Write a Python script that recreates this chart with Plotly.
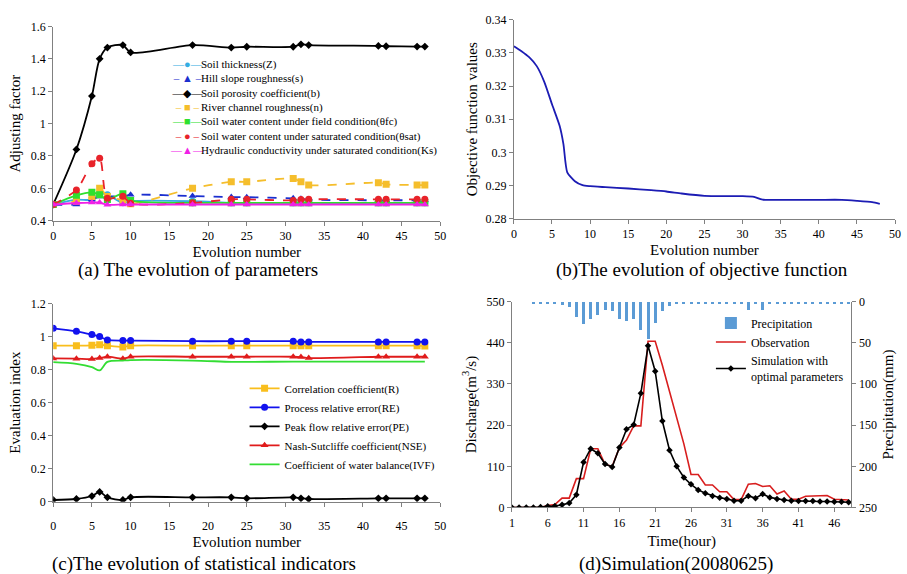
import plotly.graph_objects as go

W, H = 907, 574
SERIF = "Liberation Serif"

# ---------------- data ----------------
EVO = [0, 3, 5, 6, 7, 9, 10, 18, 23, 25, 31, 32, 33, 42, 43, 47, 48]

# (a) parameters
soil_thickness = [0.50, 0.53, 0.53, 0.57, 0.56, 0.51, 0.52, 0.52, 0.51, 0.51, 0.51, 0.51, 0.51, 0.51, 0.51, 0.51, 0.51]
hill_slope = [0.50, 0.50, 0.53, 0.55, 0.55, 0.55, 0.56, 0.552, 0.546, 0.545, 0.538, 0.536, 0.53, 0.526, 0.526, 0.526, 0.526]
soil_porosity = [0.50, 0.84, 1.17, 1.40, 1.47, 1.485, 1.44, 1.485, 1.47, 1.475, 1.475, 1.49, 1.485, 1.48, 1.478, 1.476, 1.476]
river_rough = [0.50, 0.52, 0.55, 0.60, 0.55, 0.527, 0.505, 0.60, 0.64, 0.64, 0.66, 0.64, 0.62, 0.635, 0.625, 0.62, 0.62]
theta_fc = [0.50, 0.557, 0.575, 0.56, 0.53, 0.567, 0.525, 0.51, 0.51, 0.51, 0.51, 0.51, 0.51, 0.51, 0.51, 0.51, 0.51]
theta_sat = [0.50, 0.59, 0.752, 0.786, 0.538, 0.551, 0.508, 0.51, 0.532, 0.532, 0.525, 0.53, 0.532, 0.532, 0.532, 0.532, 0.532]
ks = [0.50, 0.509, 0.512, 0.512, 0.498, 0.50, 0.50, 0.50, 0.50, 0.50, 0.50, 0.50, 0.50, 0.50, 0.50, 0.50, 0.50]

A_NAMES = ["Soil thickness(Z)", "Hill slope roughness(s)", "Soil porosity coefficient(b)",
           "River channel roughness(n)", "Soil water content under field condition(θfc)",
           "Soil water content under saturated condition(θsat)",
           "Hydraulic conductivity under saturated condition(Ks)"]

# (b) objective function
OBJ_X = [0, 1, 2, 3, 4, 5, 6, 6.5, 7, 8, 9, 10, 12, 15, 18, 20, 22, 25, 28, 30, 31.5, 32.5, 33, 35, 40, 43, 45, 47, 48]
OBJ_Y = [0.3320, 0.3305, 0.3287, 0.3260, 0.3212, 0.3145, 0.3080, 0.3025, 0.2940, 0.2913, 0.2901, 0.2898,
         0.2895, 0.2891, 0.2886, 0.2882, 0.2876, 0.2869, 0.2868, 0.2868, 0.2866, 0.2858, 0.2857, 0.2857,
         0.2857, 0.2857, 0.2854, 0.2850, 0.2845]

# (c) statistical indicators
corr_R = [0.945, 0.945, 0.947, 0.951, 0.945, 0.937, 0.945, 0.945, 0.945, 0.945, 0.945, 0.945, 0.945, 0.945, 0.945, 0.945, 0.943]
proc_RE = [1.05, 1.032, 1.012, 1.0, 0.98, 0.976, 0.976, 0.972, 0.972, 0.972, 0.972, 0.968, 0.968, 0.968, 0.968, 0.968, 0.968]
peak_PE = [0.01, 0.016, 0.034, 0.059, 0.026, 0.01, 0.026, 0.026, 0.026, 0.02, 0.026, 0.02, 0.016, 0.02, 0.02, 0.02, 0.02]
nse = [0.868, 0.866, 0.864, 0.870, 0.878, 0.866, 0.878, 0.878, 0.878, 0.878, 0.878, 0.876, 0.870, 0.878, 0.878, 0.878, 0.878]
ivf = [0.845, 0.835, 0.815, 0.795, 0.847, 0.855, 0.858, 0.855, 0.847, 0.847, 0.848, 0.848, 0.848, 0.848, 0.848, 0.848, 0.848]

# (d) simulation 20080625
HOURS = list(range(1, 49))
precip = [0, 0, 0, 1.5, 1.5, 1.5, 2.5, 4, 6.5, 17.8, 26.7, 21, 15.2, 9.2, 10.4, 20.3, 23.1, 21, 33.8, 44.8,
          25, 10.4, 4.7, 1.5, 1.5, 1.5, 1.5, 1.5, 1.5, 1.5, 1.5, 1.5, 1.5, 10, 1.5, 10, 1.5, 1.5, 1.5, 1.5,
          1.5, 1.5, 1.5, 1.5, 1.5, 1.5, 1.5, 1.5]
observed = [0, 0, 0, 0, 0, 5, 8, 25, 25, 77, 77, 157, 157, 115, 110, 160, 180, 218, 218, 444,
            444, 380, 310, 240, 170, 88, 88, 60, 60, 42, 42, 21, 21, 62, 64, 56, 58, 36, 44, 22,
            22, 30, 30, 30, 32, 22, 21, 20]
simulated = [0, 0, 0, 0, 1, 3, 4, 7, 12, 34, 121, 157, 145, 116, 108, 160, 209, 221, 305, 432,
             364, 231, 153, 110, 80, 62, 47, 38, 31, 26, 23, 18, 18, 31, 25, 36, 27, 23, 20, 18,
             17, 17, 17, 16, 16, 15, 15, 14]

D_TICKS = [1, 6, 11, 16, 21, 26, 31, 36, 41, 46]

# ---------------- helpers ----------------
def px_x(a, b):
    return [a / W, b / W]

def px_y(top, bottom):
    return [1 - bottom / H, 1 - top / H]

def ttl(text, standoff):
    return dict(text=text, standoff=standoff, font=dict(family=SERIF, size=15, color="#000"))

fig = go.Figure()

# (a)
a_styles = [
    ("#34ADE2", "solid", "circle", 7, "—●—"),
    ("#1B2FCF", "dash", "triangle-up", 7, "– ▲ –"),
    ("#000000", "solid", "diamond", 6, "—◆—"),
    ("#F5BE2C", "dash", "square", 7, "– ■ –"),
    ("#2EE02E", "solid", "square", 7, "—■—"),
    ("#E8232A", "dash", "circle", 7, "– ● –"),
    ("#F020E6", "solid", "triangle-up", 7, "—▲—"),
]
a_values = [soil_thickness, hill_slope, soil_porosity, river_rough, theta_fc, theta_sat, ks]
for name, vals, (col, dash, sym, sz, _) in zip(A_NAMES, a_values, a_styles):
    fig.add_trace(go.Scatter(
        x=EVO, y=vals, name=name, mode="lines+markers", showlegend=False,
        line=dict(color=col, width=1.8, dash=dash, shape="spline", smoothing=0.8),
        marker=dict(color=col, symbol=sym, size=sz),
        xaxis="x", yaxis="y"))

# (b)
fig.add_trace(go.Scatter(
    x=OBJ_X, y=OBJ_Y, mode="lines", showlegend=False,
    line=dict(color="#1C1CB4", width=1.8, shape="spline", smoothing=0.6),
    xaxis="x2", yaxis="y2"))

# (c)
c_series = [
    ("Correlation coefficient(R)", corr_R, "#F9BE1C", "square", 7, "lines+markers"),
    ("Process relative error(RE)", proc_RE, "#1212EE", "circle", 7, "lines+markers"),
    ("Peak flow relative error(PE)", peak_PE, "#000000", "diamond", 6, "lines+markers"),
    ("Nash-Sutcliffe coefficient(NSE)", nse, "#E01B1B", "triangle-up", 7, "lines+markers"),
    ("Coefficient of water balance(IVF)", ivf, "#33DD33", "circle", 1, "lines"),
]
for name, vals, col, sym, sz, mode in c_series:
    fig.add_trace(go.Scatter(
        x=EVO, y=vals, name=name, mode=mode,
        line=dict(color=col, width=1.8, shape="spline", smoothing=0.8),
        marker=dict(color=col, symbol=sym, size=sz),
        xaxis="x3", yaxis="y3", legend="legend2"))

# (d)
fig.add_trace(go.Bar(
    x=HOURS, y=precip, name="Precipitation", marker=dict(color="#5B9BD5", line=dict(width=0)),
    width=0.42, xaxis="x4", yaxis="y5", legend="legend3"))
fig.add_trace(go.Scatter(
    x=HOURS, y=observed, name="Observation", mode="lines",
    line=dict(color="#D81E1E", width=1.6),
    xaxis="x4", yaxis="y4", legend="legend3"))
fig.add_trace(go.Scatter(
    x=HOURS, y=simulated, name="Simulation with<br>optimal parameters", mode="lines+markers",
    line=dict(color="#000000", width=1.6), marker=dict(color="#000000", symbol="diamond", size=5),
    xaxis="x4", yaxis="y4", legend="legend3"))

axis_common = dict(showline=True, linecolor="#808080", linewidth=1, ticks="outside",
                   tickcolor="#808080", ticklen=4, showgrid=False, zeroline=False,
                   tickfont=dict(family=SERIF, size=12, color="#000"))

fig.update_layout(
    width=W, height=H, margin=dict(l=0, r=0, t=0, b=0),
    paper_bgcolor="white", plot_bgcolor="white", bargap=0,
    font=dict(family=SERIF, color="#000"),
    xaxis=dict(domain=px_x(50.7, 441.7), anchor="y", range=[0, 50], dtick=5,
               title=ttl("Evolution number", 4), **axis_common),
    yaxis=dict(domain=px_y(20, 219), anchor="x", range=[0.4, 1.6], dtick=0.2,
               title=ttl("Adjusting factor", 6), **axis_common),
    xaxis2=dict(domain=px_x(516, 901), anchor="y2", range=[0, 50], dtick=5,
                title=ttl("Evolution number", 4), **axis_common),
    yaxis2=dict(domain=px_y(13, 217), anchor="x2", range=[0.28, 0.34], dtick=0.01,
                title=ttl("Objective function values", 4), **axis_common),
    xaxis3=dict(domain=px_x(50.7, 441.7), anchor="y3", range=[0, 50], dtick=5,
                ticklabelstandoff=9, title=ttl("Evolution number", 4), **axis_common),
    yaxis3=dict(domain=px_y(304, 507), anchor="x3", range=[0, 1.2], dtick=0.2,
                title=ttl("Evaluation index", 6), **axis_common),
    xaxis4=dict(domain=px_x(514, 857), anchor="y4", range=[1, 48.4], tickvals=D_TICKS,
                title=ttl("Time(hour)", 6), **axis_common),
    yaxis4=dict(domain=px_y(302, 513), anchor="x4", range=[0, 550], dtick=110,
                title=ttl("Discharge(m<sup>3</sup>/s)", 6), **axis_common),
    yaxis5=dict(overlaying="y4", anchor="x4", side="right", range=[250, 0], dtick=50,
                title=ttl("Precipitation(mm)", 6), **axis_common),
    legend2=dict(x=244 / W, y=1 - 376 / H, xanchor="left", yanchor="top",
                 bgcolor="rgba(0,0,0,0)", font=dict(family=SERIF, size=11, color="#000")),
    legend3=dict(x=715 / W, y=1 - 309 / H, xanchor="left", yanchor="top",
                 bgcolor="rgba(0,0,0,0)", font=dict(family=SERIF, size=12, color="#000")),
)

# compact legend for panel (a), built from the series names and styles
sample_lines = "<br>".join(
    f"<span style='color:{st[0]}'>{st[4]}</span>" for st in a_styles)
fig.add_annotation(text=sample_lines, x=167 / W, y=1 - 50 / H, xref="paper", yref="paper",
                   showarrow=False, xanchor="left", yanchor="top", align="center",
                   font=dict(family=SERIF, size=11))
fig.add_annotation(text="<br>".join(A_NAMES), x=198 / W, y=1 - 50 / H, xref="paper", yref="paper",
                   showarrow=False, xanchor="left", yanchor="top", align="left",
                   font=dict(family=SERIF, size=11, color="#000"))

captions = [
    ("(a) The evolution of parameters", 197, 270),
    ("(b)The evolution of objective function", 706, 270),
    ("(c)The evolution of statistical indicators", 203, 571),
    ("(d)Simulation(20080625)", 680, 571),
]
for text, cx, cy in captions:
    fig.add_annotation(text=text, x=cx / W, y=1 - cy / H, xref="paper", yref="paper",
                       showarrow=False, xanchor="center", yanchor="middle",
                       font=dict(family=SERIF, size=19, color="#000"))

fig.write_html("out.html")
